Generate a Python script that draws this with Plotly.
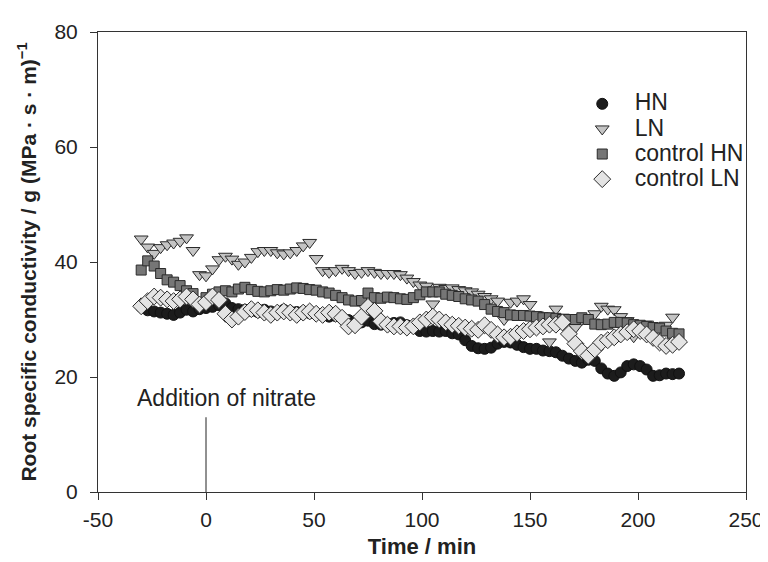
import plotly.graph_objects as go

# time axis (min)
time_min = [-30, -27, -24, -21, -18, -15, -12, -9, -6, -3,
            0, 3, 6, 9, 12, 15, 18, 21, 24, 27,
            30, 33, 36, 39, 42, 45, 48, 51, 54, 57,
            60, 63, 66, 69, 72, 75, 78, 81, 84, 87,
            90, 93, 96, 99, 102, 105, 108, 111, 114, 117,
            120, 123, 126, 129, 132, 135, 138, 141, 144, 147,
            150, 153, 156, 159, 162, 165, 168, 171, 174, 177,
            180, 183, 186, 189, 192, 195, 198, 201, 204, 207,
            210, 213, 216, 219]

hn = [32.2, 31.6, 31.4, 31.2, 31.0, 30.8, 31.2, 31.7, 31.4, 31.8,
      32.0, 32.2, 32.5, 32.8, 32.0, 31.8, 31.7, 31.5, 31.3, 31.7,
      31.4, 31.3, 31.7, 31.4, 31.3, 31.4, 31.1, 31.0, 30.7, 30.5,
      30.6, 30.2, 29.9, 29.7, 29.5, 29.8, 29.2, 29.1, 29.2, 29.4,
      29.5, 29.0, 28.6, 28.0, 27.9, 28.0, 27.9, 28.0, 27.6, 27.4,
      26.4, 25.4, 25.0, 24.9, 25.1, 25.8, 26.1, 26.0, 25.6, 25.2,
      24.9, 24.9, 24.6, 24.5, 24.3, 23.7, 23.2, 22.8, 22.5, 23.0,
      22.8, 21.5, 20.6, 20.2, 20.8, 21.9, 22.2, 21.9, 21.3, 20.2,
      20.3, 20.6, 20.5, 20.6]

ln = [44.0, 42.6, 41.5, 42.5, 43.0, 43.3, 43.6, 44.2, 42.0, 37.8,
      37.6, 38.8, 40.4, 41.0, 40.5, 39.6, 40.0, 40.8, 41.8, 42.0,
      42.0, 41.6, 41.4, 41.6, 42.0, 42.8, 43.4, 40.6, 38.5, 38.2,
      38.5, 38.9, 38.5, 38.0, 38.2, 38.5, 38.2, 38.0, 38.0, 38.0,
      37.8, 37.2, 36.6, 36.0, 35.8, 32.7, 35.6, 35.4, 35.5, 35.2,
      35.0, 34.8, 34.4, 34.0, 33.6, 33.2, 30.0, 33.0, 33.2, 33.6,
      32.6, 30.8, 30.6, 26.1, 31.8, 30.4, 30.2, 28.6, 30.0, 30.2,
      31.0, 32.3, 31.8, 31.7, 30.5, 29.8, 27.0, 29.0, 29.2, 28.8,
      28.6, 29.0, 30.4, None]

control_hn = [38.6, 40.2, 39.3, 38.0, 36.9, 36.5, 35.9, 35.0, 34.5, 33.0,
              33.8, 34.4, 34.8, 35.0, 34.8, 35.3, 35.6, 35.2, 34.9, 34.8,
              35.0, 35.2, 35.1, 35.3, 35.5, 35.4, 35.2, 35.1, 34.8, 34.6,
              34.2, 33.8, 33.4, 33.2, 33.3, 34.6, 33.8, 33.7, 33.9, 33.8,
              33.6, 33.5, 33.8, 34.3, 34.8, 34.8, 34.8, 34.4, 34.2, 34.0,
              33.6, 33.4, 33.2, 32.6, 31.8, 31.4, 31.2, 30.8, 30.7, 30.7,
              30.6, 30.5, 30.3, 30.3, 30.2, 30.0, 30.0, 30.0, 30.3, 30.0,
              29.2, 29.1, 29.2, 29.5, 29.5, 29.4, 29.1, 29.0, 28.8, 28.6,
              28.5, 28.0, 27.6, 27.5]

control_ln = [32.3, 33.2, 34.0, 33.8, 33.5, 33.2, 33.5, 34.0, 33.5, 32.6,
              33.0, 34.0, 33.4, 31.0, 30.0, 30.5, 31.3, 31.8, 31.6, 31.2,
              30.8, 31.2, 31.4, 31.2, 30.8, 31.2, 31.4, 31.0, 30.8, 31.2,
              31.0, 30.3, 28.8, 29.0, 30.5, 32.2, 31.5, 29.7, 29.1, 28.8,
              28.8, 28.6, 28.8, 29.5, 30.0, 30.5, 30.0, 29.5, 29.1, 28.9,
              28.6, 28.4, 28.2, 29.0, 28.2, 27.4, 26.9, 27.0, 27.6, 28.0,
              28.3, 28.6, 28.8, 29.1, 29.1, 29.5, 27.5, 25.8, 24.5, 23.7,
              24.8, 26.0, 26.4, 26.9, 27.4, 27.8, 28.3, 28.0, 27.4, 26.8,
              26.0, 25.4, 25.6, 26.1]

series_names = ["HN", "LN", "control HN", "control LN"]

x_ticks = [-50, 0, 50, 100, 150, 200, 250]
x_ticklabels = ["-50", "0", "50", "100", "150", "200", "250"]
y_ticks = [0, 20, 40, 60, 80]

nitrate_time = 0
nitrate_label = "Addition of nitrate"

FONT = "Liberation Sans, Arial, sans-serif"
TXT = "#222222"
OUTLINE = "#2a2a2a"
LEG = 23


def legend_name(s):
    return f"<span style='font-size:{LEG}px'>{s}</span>"


fig = go.Figure()
fig.add_trace(go.Scatter(x=time_min, y=hn, mode="markers", name=legend_name(series_names[0]),
                         marker=dict(symbol="circle", size=11, color="#1c1c1c",
                                     line=dict(color="#111111", width=1))))
fig.add_trace(go.Scatter(x=time_min, y=ln, mode="markers", name=legend_name(series_names[1]),
                         marker=dict(symbol="triangle-down", size=12, color="#c4c4c4",
                                     line=dict(color=OUTLINE, width=1))))
fig.add_trace(go.Scatter(x=time_min, y=control_hn, mode="markers", name=legend_name(series_names[2]),
                         marker=dict(symbol="square", size=10, color="#767676",
                                     line=dict(color=OUTLINE, width=1))))
fig.add_trace(go.Scatter(x=time_min, y=control_ln, mode="markers", name=legend_name(series_names[3]),
                         marker=dict(symbol="diamond", size=13, color="#e4e4e4",
                                     line=dict(color=OUTLINE, width=1))))

fig.add_shape(type="line", xref="x", yref="y",
              x0=nitrate_time, x1=nitrate_time, y0=0, y1=13.0,
              line=dict(color=TXT, width=1))
fig.add_annotation(x=nitrate_time + 9.5, y=16.4, xref="x", yref="y",
                   text=nitrate_label, showarrow=False,
                   font=dict(family=FONT, size=23, color=TXT))

axis_common = dict(showgrid=False, zeroline=False, showline=True, linecolor="#333333",
                   linewidth=1, mirror=True, ticks="outside", ticklen=7,
                   tickcolor="#333333", ticklabeloverflow="allow",
                   tickfont=dict(family=FONT, size=21, color=TXT))

fig.update_xaxes(range=[-50, 250], tickmode="array", tickvals=x_ticks, ticktext=x_ticklabels,
                 ticklabelstandoff=2,
                 title=dict(text="<b>Time / min</b>", font=dict(family=FONT, size=22, color=TXT),
                            standoff=8),
                 **axis_common)
fig.update_yaxes(range=[0, 80], tickmode="array", tickvals=y_ticks,
                 ticklabelstandoff=8,
                 title=dict(text="<b>Root specific conductivity / g (MPa · s · m)<sup>−1</sup></b>",
                            font=dict(family=FONT, size=21, color=TXT), standoff=12),
                 **axis_common)

fig.update_layout(
    width=768, height=562,
    margin=dict(l=90, r=30, t=12, b=78),
    plot_bgcolor="white", paper_bgcolor="white",
    font=dict(family=FONT, size=21, color=TXT),
    legend=dict(x=0.728, y=0.882, xanchor="left", yanchor="top",
                bgcolor="rgba(0,0,0,0)", borderwidth=0,
                font=dict(family=FONT, size=17, color=TXT),
                itemwidth=55, tracegroupgap=0),
    showlegend=True,
)

fig.write_html("out.html")
